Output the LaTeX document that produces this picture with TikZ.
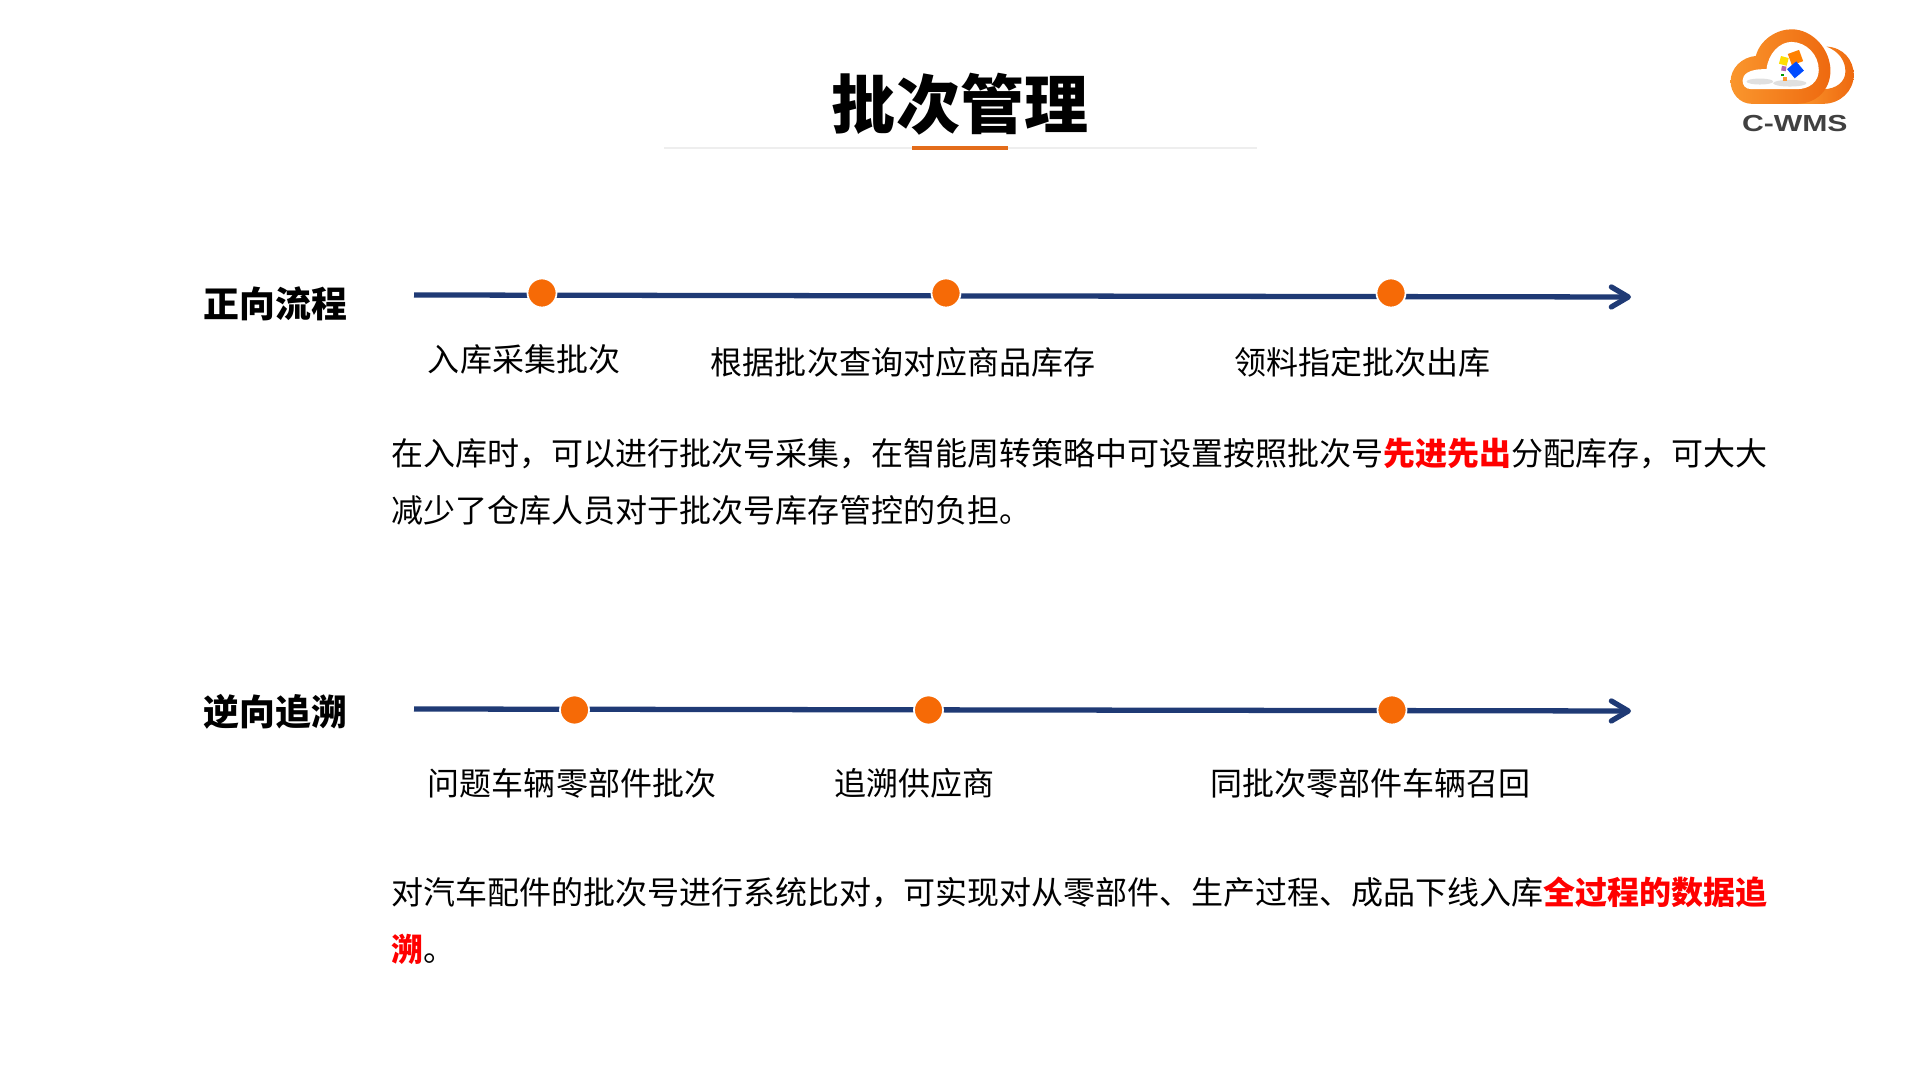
\documentclass[tikz,border=0pt]{standalone}
\usepackage{fontspec}
\usepackage{xcolor}
\setmainfont{Noto Sans CJK SC}
\newfontfamily\logofont[FakeStretch=1.3]{Liberation Sans}
\definecolor{myOrange}{RGB}{246,106,6}
\definecolor{myBar}{RGB}{227,108,26}
\definecolor{myNavy}{RGB}{31,58,117}
\definecolor{myRule}{RGB}{238,238,238}
\definecolor{myRed}{RGB}{255,0,0}
\definecolor{myLight}{RGB}{250,150,45}
\definecolor{myDeep}{RGB}{238,105,15}
\newcommand{\hot}[1]{\textcolor{myRed}{\textbf{#1}}}
\usetikzlibrary{arrows.meta,positioning}
\tikzset{
  titletext/.style={inner sep=0,font=\fontsize{18.2}{22}\selectfont\bfseries},
  section/.style={inner sep=0,font=\fontsize{10.2}{12}\selectfont\bfseries},
  label/.style={inner sep=0,font=\fontsize{9.1}{11}\selectfont},
  body/.style={inner sep=0,anchor=west,align=left,font=\fontsize{9.1}{16.2}\selectfont},
  dot/.style={draw=white,line width=0.5pt,fill=myOrange,shape=circle,minimum size=0.29cm,inner sep=0},
  line/.style={draw=myNavy,line width=1.5pt,-{Straight Barb[length=1.7mm,width=2mm,round]}},
}

\begin{document}
\begin{tikzpicture}[x=0.01cm,y=-0.01cm]
  \useasboundingbox (0,0) rectangle (1920,1080);
  % title
  \node (title) [titletext] at (960,104) {批次管理};
  \coordinate (rulea) at (664,148);
  \coordinate (ruleb) at (1257,148);
  \coordinate (bara) at (912,148);
  \coordinate (barb) at (1008,148);
  \draw [myRule,line width=0.4pt] (rulea) -- (ruleb);
  \draw [myBar,line width=0.9pt] (bara) -- (barb);
  % forward
  \node (forward) [section] at (275.5,304) {正向流程};
  \coordinate (fstart) at (414,295);
  \coordinate (fend) at (1631,297);
  \path [line] (fstart) -- (fend);
  \node (fa) [dot] at (542,293) {};
  \node (fb) [dot] at (946,293) {};
  \node (fc) [dot] at (1391,293) {};
  \node (fla) [label] at (524,359.5) {入库采集批次};
  \node (flb) [label] at (903,362) {根据批次查询对应商品库存};
  \node (flc) [label] at (1362.5,362) {领料指定批次出库};
  \node (fbody) [body] at (390.5,482) {在入库时，可以进行批次号采集，在智能周转策略中可设置按照批次号\hot{先进先出}分配库存，可大大\\减少了仓库人员对于批次号库存管控的负担。};
  % backward
  \node (back) [section] at (275.5,712) {逆向追溯};
  \coordinate (bstart) at (414,709);
  \coordinate (bend) at (1631,711);
  \path [line] (bstart) -- (bend);
  \node (ba) [dot] at (574.5,710) {};
  \node (bb) [dot] at (928.5,710) {};
  \node (bc) [dot] at (1392,710) {};
  \node (bla) [label] at (572,783) {问题车辆零部件批次};
  \node (blb) [label] at (914,783) {追溯供应商};
  \node (blc) [label] at (1370,783) {同批次零部件车辆召回};
  \node (bbody) [body] at (390.5,920.5) {对汽车配件的批次号进行系统比对，可实现对从零部件、生产过程、成品下线入库\hot{全过程的数据追}\\\hot{溯}。};
  % logo
  \begin{scope}[shift={(1680,10)},x=0.00333cm,y=-0.00333cm]
    \path [left color=myLight,right color=myDeep]
      (440,110) .. controls (490,112) and (522,150) .. (522,195)
      .. controls (522,245) and (480,282) .. (430,282) -- (350,282) -- (350,238) -- (430,238)
      .. controls (470,238) and (497,215) .. (497,185)
      .. controls (497,155) and (480,125) .. (440,110);
    \path [left color=myLight,right color=myDeep]
      (215,282) .. controls (180,282) and (152,250) .. (152,215)
      .. controls (152,175) and (185,142) .. (228,138)
      .. controls (240,90) and (290,58) .. (335,58)
      .. controls (400,58) and (452,120) .. (452,182)
      .. controls (452,240) and (410,282) .. (350,282) -- cycle;
    \path [fill=white]
      (215,238) .. controls (195,238) and (188,225) .. (188,212)
      .. controls (188,195) and (205,176) .. (260,178)
      .. controls (265,130) and (300,96) .. (335,96)
      .. controls (380,96) and (417,135) .. (417,180)
      .. controls (417,215) and (390,238) .. (350,238) -- cycle;
    \path [fill=black!12] (240,215) ellipse (40 and 9) (330,220) ellipse (50 and 10);
    \path [fill=yellow!80!orange,rotate around={-15:(312,153)}] (300,141) rectangle (324,165);
    \path [fill=orange,rotate around={20:(347,143)}] (329,125) rectangle (365,161);
    \path [fill=blue!70!cyan,rotate around={40:(347,180)}] (329,162) rectangle (365,198);
    \path [fill=violet!60,rotate around={-10:(312,176)}] (305,169) rectangle (319,183);
    \path [fill=green!60!black] (303,191) rectangle (311,199);
    \path [fill=orange!80] (309,200) rectangle (321,212);
    \node (logotext) [inner sep=0,text=black!75,font=\logofont\fontsize{6.6}{8}\selectfont\bfseries] at (345,341) {C-WMS};
  \end{scope}
\end{tikzpicture}
\end{document}
